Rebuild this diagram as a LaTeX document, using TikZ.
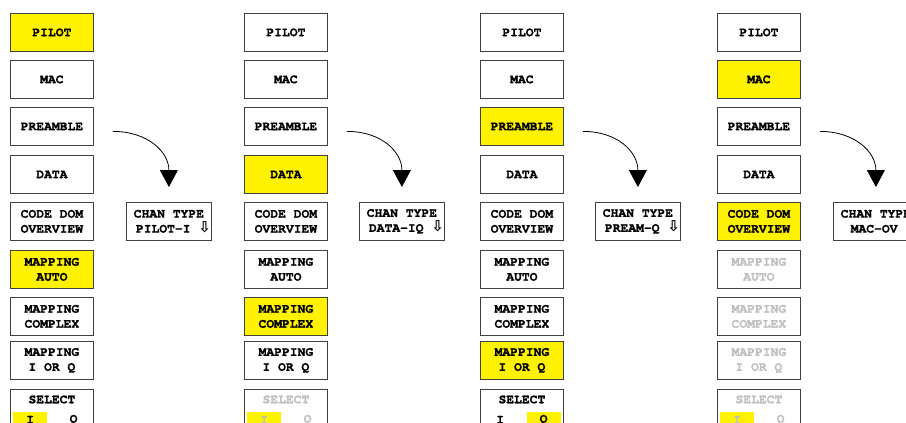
\documentclass[tikz,border=0pt]{standalone}
\usepackage{fontspec}
\setmonofont{TeX Gyre Cursor}[BoldFeatures={FakeBold=1.2}]
\newfontfamily\arrowfont{DejaVu Sans}
\usetikzlibrary{arrows.meta,calc,positioning}

% key states: n = normal, h = highlighted, g = greyed out
\colorlet{fn}{white}
\colorlet{fh}{yellow}
\colorlet{fg}{white}
\colorlet{tn}{black}
\colorlet{th}{black}
\colorlet{tg}{black!25}

\tikzset{
  keyfont/.style={font=\ttfamily\bfseries\fontsize{13}{15}\selectfont},
  softkey/.style={keyfont,draw=black!75,line width=0.8pt,minimum width=83pt,
    minimum height=38pt,inner sep=0pt,anchor=north west,align=center},
  chanbox/.style={softkey,minimum width=85pt},
  selhalf/.style={keyfont,inner sep=0pt,minimum width=34pt,minimum height=15pt},
  hop/.style={-{Triangle[length=17pt,width=18pt]},line width=0.8pt},
}

\begin{document}
\begin{tikzpicture}[x=1pt,y=-1pt]
\useasboundingbox (0,0) rectangle (906,423);
\clip (0,0) rectangle (906,423);

% softkey columns
\foreach \top/\lab/\sa/\sb/\sc/\sd [count=\r] in {
  13/PILOT/h/n/n/n,
  60/MAC/n/n/n/h,
  107/PREAMBLE/n/n/h/n,
  155/DATA/n/h/n/n,
  202/CODE DOM\\OVERVIEW/n/n/n/h,
  250/MAPPING\\AUTO/h/n/n/g,
  297/MAPPING\\COMPLEX/n/h/n/g,
  341/MAPPING\\I OR Q/n/n/h/g}
  \foreach \s/\x [count=\c] in {\sa/10,\sb/244,\sc/480,\sd/717}
    \node[softkey,fill=f\s,text=t\s] (k\c-\r) at (\x,\top) {\lab};

% select I / Q keys
\foreach \x/\filli/\fillq/\st [count=\c] in {10/fh/fn/n,244/fh/fn/g,480/fn/fh/n,717/fh/fn/g} {
  \node[softkey,fill=white] (sel\c) at (\x,389) {};
  \node[keyfont,inner sep=0pt,text=t\st] (selt\c) at ($(sel\c.north)+(0,10.5)$) {SELECT};
  \node[selhalf,fill=\filli,text=t\st,anchor=north west] (seli\c) at ($(sel\c.north west)+(3,23)$) {I};
  \node[selhalf,fill=\fillq,text=t\st,anchor=north east] (selq\c) at ($(sel\c.north east)+(-3,23)$) {Q};
}

% channel type fields
\foreach \x/\ct [count=\c] in {126/PILOT-I,359/DATA-IQ,595/PREAM-Q,833/MAC-OV}
  \node[chanbox,fill=white] (ch\c) at (\x,202)
    {CHAN TYPE\\\makebox[84pt][r]{\ct\ {\arrowfont\fontsize{15}{15}\selectfont ⇩}}};

% arrows
\foreach \c in {1,...,4}
  \draw[hop] ($(k\c-3.east)+(19,5)$) .. controls +(35,0) and +(0,-35) .. ($(ch\c.north)+(0,-15)$);
\end{tikzpicture}
\end{document}
